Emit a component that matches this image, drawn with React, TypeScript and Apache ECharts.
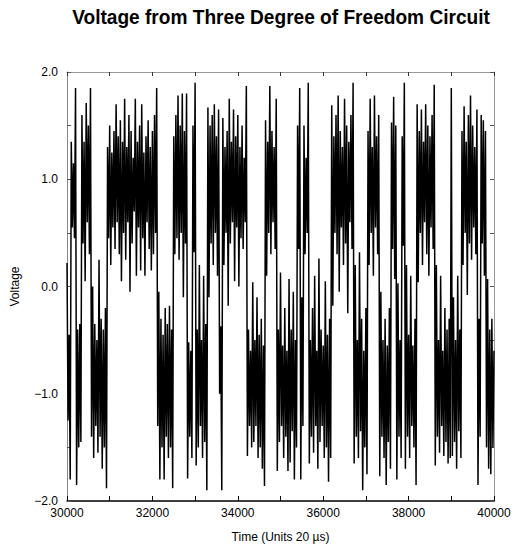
import React, { useEffect, useRef } from "react";
import * as echarts from "echarts";

const TITLE = "Voltage from Three Degree of Freedom Circuit";
const X_NAME = "Time (Units 20 µs)";
const Y_NAME = "Voltage";
const T_START = 30000;
const T_END = 40000;
const SAMPLE_STEP = 25;
const V_MIN = -2;
const V_MAX = 2;

// turning points of the trace, one every SAMPLE_STEP time units (peak / trough alternating)
const voltagePart1 = [
  0.22, -1.25, -0.45, -1.8,
  1.35, 0.55, 1.15, 0.45, 1.85,
  -1.85, -0.4, -1.5, -0.35, -1.45,
  1.6, 0.4, 1.35, 0.05, 1.71, 0.6, 1.5, 0.3, 1.85,
  -1.4, 0.0, -1.6, -0.35, -1.3, -0.5, -1.55, 0.25, -1.4, -0.3, -1.7, -0.4, -1.5, -0.2, -1.88,
  1.3, 0.45, 1.5, 0.2, 1.25, 0.55, 1.45, 0.35, 1.7, 0.6,
  1.4, 0.3, 1.55, 0.05, 1.35, 0.5, 1.75, 0.25, 1.3, 0.6,
  1.6, -0.05, 1.45, 0.4, 1.2, 0.7, 1.75, 0.1, 1.35, 0.55,
  1.5, 0.15, 1.7, 0.45, 1.25, 0.1, 1.4, 0.6, 1.55, 0.35,
  1.3, 0.15, 1.45, 0.3, 1.6, 0.5, 1.85,
  -1.3, -0.05, -1.8, -0.3, -1.5, -0.45, -1.8, -0.2, -1.4, -0.35, -1.6, -0.18, -1.5, -0.4, -1.88,
];

const voltagePart2 = [
  1.4, 0.3, 1.6, 0.45, 1.78, 0.25, 1.5, 0.5, 1.8, -0.1, 1.45, 0.4, 1.8,
  -1.79, -0.52, -1.4, -0.6, -1.6,
  1.5, 0.32, 1.9,
  -1.67, -0.4, -1.5, 0.2, -1.3, -0.5, -1.6, 0.1, -1.45, -0.35, -1.9,
  1.67, -0.1, 1.5, 0.4, 1.6, 0.2, 1.7, 0.5, 1.4, 0.1, 1.65,
  -1.0, -0.37, -1.9,
  1.57, 0.2, 1.3, 0.5, 1.45, -0.18, 1.75, 0.4, 1.35, 0.6, 1.65, 0.05, 1.4, 0.55, 1.6, 0.0, 1.3, 0.45, 1.5, 0.35, 1.2, 0.6, 1.87,
  -1.58, -0.4, -1.3, -0.6, -1.5, 0.04, -1.45, -0.5, -1.3, -0.1, -1.6, -0.45, -1.5, -0.3, -1.7, -0.55, -1.86,
  1.55, 0.1, 1.35, 0.5, 1.87, 0.3, 1.45, 0.6, 1.3, 0.35, 1.75,
  -1.72, -0.4, -1.45, 0.13, -1.3, -0.55, -1.6, -0.2, -1.4, -0.6, -1.72, 0.07, -1.64, -0.4, -1.35, -0.05, -1.8, -0.5, -1.5,
];

const voltagePart3 = [
  1.5, 0.35, 1.85,
  -1.8, -0.1, -1.3,
  1.5, 0.3, 1.2, 0.5, 1.9,
  -1.65, -0.5, -1.4, -0.2, -1.55, 0.1, -1.3, -0.6, -1.7, 0.26, -1.45, -0.4, -1.3, -0.55, -1.6, 0.05, -1.5, -0.45, -1.82, -0.3, -1.6,
  1.69, -0.18, 1.4, 0.5, 1.6, 0.3, 1.78, -0.05, 1.45, 0.55, 1.3, 0.2, 1.75, 0.4, 1.5, -0.25, 1.35, 0.6, 1.6, 0.35, 1.9,
  -1.65, 0.2, -1.4, -0.5, -1.6, 0.32, -1.35, -0.3, -1.9, -0.6, -1.5, -0.2, -1.75,
  1.45, 0.2, 1.75, 0.5, 1.3, 0.1, 1.78, 0.55, 1.4, 0.3, 1.6,
  -1.77, -0.05, -1.4, -0.5, -1.6, -0.3, -1.85, -0.55, -1.45, -0.2, -1.7,
  1.53, 0.35, 1.77, 0.07, 1.5,
  -1.8, 0.03, -1.4, -0.5, -1.6,
  1.4, 0.38, 1.9,
  -1.7, 0.2, -1.4, -0.45, -1.6, 0.1, -1.3, -0.55, -1.5, -0.3, -1.85,
];

const voltagePart4 = [
  1.7, 0.04, 1.45, 0.5, 1.65, 0.2, 1.35, 0.6, 1.7, 0.3, 1.5, 0.1, 1.4, 0.55, 1.6, 0.35, 1.88,
  -1.67, 0.2, -1.4, -0.5, -1.55, 0.1, -1.3, -0.6, -1.58, -0.2, -1.45, -0.4, -1.65, -0.3, -1.6,
  1.85,
  -1.58, -0.1, -1.45, -0.5, -1.7, 0.1, -1.35, -0.4, -1.6,
  1.45, 0.2, 1.68, 0.5, 1.35, -0.08, 1.6, 0.4, 1.78, 0.25, 1.5, 0.55, 1.3, 0.3, 1.65,
  -1.85, -0.3, -1.4,
  1.6, 0.4, 1.55, 0.1, 1.45,
  -1.5, 0.07, -1.7, -0.4, -1.75, -0.3, -1.5, -0.6,
];

const FONT = "'Liberation Sans', Arial, Helvetica, sans-serif";

export default function App() {
  const ref = useRef<HTMLDivElement>(null);
  useEffect(() => {
    if (!ref.current) return;
    const chart = echarts.init(ref.current, null, { renderer: "svg" });
    const values = [...voltagePart1, ...voltagePart2, ...voltagePart3, ...voltagePart4];
    const data = values.map((v, i) => [T_START + i * SAMPLE_STEP, v]);
    const fmtY = (v: number) =>
      Math.abs(v - Math.round(v)) < 1e-9 ? (v < 0 ? "\u2212" : "") + Math.abs(v).toFixed(1) : "";
    chart.setOption({
      animation: false,
      backgroundColor: "#fff",
      graphic: [
        {
          type: "text",
          x: 281,
          y: 17,
          scaleX: 0.91,
          silent: true,
          style: {
            text: TITLE,
            fill: "#000",
            font: "bold 21px 'Liberation Sans', Arial, sans-serif",
            textAlign: "center",
            textVerticalAlign: "middle",
          },
        },
      ],
      grid: { left: 67, right: 20, top: 72, bottom: 47 },
      xAxis: [
        {
          type: "value",
          position: "bottom",
          min: T_START,
          max: T_END,
          interval: 1000,
          axisLine: { show: true, onZero: false, lineStyle: { color: "#000", width: 1.5 } },
          axisTick: { show: true, inside: true, length: 5, lineStyle: { color: "#000" } },
          axisLabel: {
            formatter: (v: number) => (v % 2000 === 0 ? String(v) : ""),
            color: "#000",
            fontSize: 12,
            fontFamily: FONT,
            margin: 6,
          },
          splitLine: { show: false },
          name: X_NAME,
          nameLocation: "middle",
          nameGap: 30,
          nameTextStyle: { color: "#000", fontSize: 12, fontFamily: FONT },
        },
        {
          type: "value",
          position: "top",
          min: T_START,
          max: T_END,
          interval: 1000,
          axisLine: { show: true, onZero: false, lineStyle: { color: "#999", width: 1 } },
          axisTick: { show: true, inside: true, length: 4, lineStyle: { color: "#333" } },
          axisLabel: { show: false },
          splitLine: { show: false },
        },
      ],
      yAxis: [
        {
          type: "value",
          position: "left",
          min: V_MIN,
          max: V_MAX,
          interval: 0.5,
          axisLine: { show: true, onZero: false, lineStyle: { color: "#888", width: 1 } },
          axisTick: { show: true, inside: true, length: 4, lineStyle: { color: "#555" } },
          axisLabel: { formatter: fmtY, color: "#000", fontSize: 12, fontFamily: FONT, margin: 9 },
          splitLine: { show: false },
          name: Y_NAME,
          nameLocation: "middle",
          nameGap: 46,
          nameTextStyle: { color: "#000", fontSize: 12, fontFamily: FONT },
        },
        {
          type: "value",
          position: "right",
          min: V_MIN,
          max: V_MAX,
          interval: 0.5,
          axisLine: { show: true, onZero: false, lineStyle: { color: "#999", width: 1 } },
          axisTick: { show: true, inside: true, length: 4, lineStyle: { color: "#555" } },
          axisLabel: { show: false },
          splitLine: { show: false },
        },
      ],
      series: [
        {
          type: "line",
          xAxisIndex: 0,
          yAxisIndex: 0,
          data,
          showSymbol: false,
          silent: true,
          lineStyle: { color: "#000", width: 1.5 },
        },
      ],
    });
    return () => chart.dispose();
  }, []);
  return (
    <div
      ref={ref}
      style={{ position: "fixed", left: 0, top: 0, width: 514, height: 548, background: "#fff" }}
    />
  );
}
